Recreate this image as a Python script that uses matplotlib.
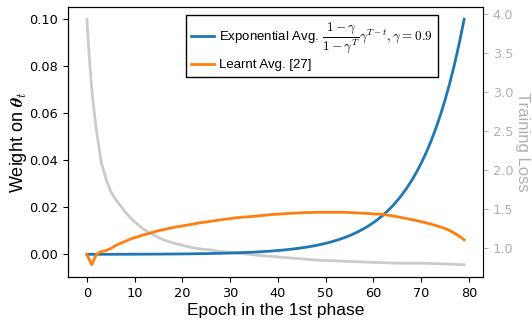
import matplotlib
matplotlib.use("Agg")
import matplotlib.pyplot as plt

plt.rcParams['mathtext.fontset'] = 'cm'

epochs = list(range(80))

exp_avg = [0.000024, 0.000027, 0.000030, 0.000033, 0.000037, 0.000041, 0.000046, 0.000051,
           0.000056, 0.000063, 0.000070, 0.000077, 0.000086, 0.000096, 0.000106, 0.000118,
           0.000131, 0.000146, 0.000162, 0.000180, 0.000200, 0.000222, 0.000246, 0.000274,
           0.000304, 0.000338, 0.000375, 0.000417, 0.000463, 0.000515, 0.000573, 0.000636,
           0.000707, 0.000786, 0.000873, 0.000970, 0.001078, 0.001197, 0.001330, 0.001478,
           0.001642, 0.001825, 0.002028, 0.002253, 0.002503, 0.002781, 0.003090, 0.003434,
           0.003815, 0.004239, 0.004710, 0.005233, 0.005815, 0.006461, 0.007179, 0.007977,
           0.008863, 0.009848, 0.010942, 0.012158, 0.013509, 0.015009, 0.016677, 0.018530,
           0.020589, 0.022877, 0.025419, 0.028243, 0.031381, 0.034868, 0.038742, 0.043047,
           0.047830, 0.053144, 0.059049, 0.065610, 0.072900, 0.081000, 0.090000, 0.100000]

learnt_avg = [0.0, -0.0044, 0.0, 0.0012, 0.0016, 0.0025, 0.0037, 0.0047, 0.0055, 0.0064,
              0.0071, 0.0077, 0.0084, 0.0089, 0.0095, 0.0101, 0.0105, 0.0110, 0.0114, 0.0118,
              0.0121, 0.0125, 0.0128, 0.0132, 0.0135, 0.0138, 0.0141, 0.0144, 0.0147, 0.0150,
              0.0152, 0.0155, 0.0157, 0.0159, 0.0160, 0.0162, 0.0164, 0.0166, 0.0168, 0.0170,
              0.0171, 0.0172, 0.0174, 0.0175, 0.0176, 0.0177, 0.0178, 0.0178, 0.0179, 0.0179,
              0.0179, 0.0179, 0.0179, 0.0179, 0.0179, 0.0178, 0.0177, 0.0176, 0.0175, 0.0174,
              0.0172, 0.0171, 0.0170, 0.0167, 0.0164, 0.0160, 0.0156, 0.0152, 0.0148, 0.0144,
              0.0139, 0.0134, 0.0129, 0.0123, 0.0117, 0.0110, 0.0101, 0.0090, 0.0077, 0.0062]

loss_epochs = [0, 0.5, 1, 1.5, 2, 2.5, 3, 4, 5, 6, 7, 8, 9, 10, 12, 14, 16, 18, 20, 22, 24,
               26, 28, 30, 33, 36, 40, 44, 48, 52, 56, 60, 65, 70, 75, 79]
loss = [3.93, 3.45, 3.05, 2.76, 2.50, 2.30, 2.10, 1.88, 1.72, 1.62, 1.54, 1.46, 1.39, 1.33,
        1.23, 1.16, 1.10, 1.06, 1.03, 1.00, 0.98, 0.97, 0.95, 0.94, 0.92, 0.90, 0.88, 0.86,
        0.84, 0.83, 0.82, 0.81, 0.80, 0.80, 0.79, 0.78]

x_ticks = [0, 10, 20, 30, 40, 50, 60, 70, 80]

fig = plt.figure(figsize=(5.32, 3.21), dpi=100)
ax = fig.add_axes([68/532, 44/321, 415/532, 270/321])
ax2 = ax.twinx()
ax.set_zorder(ax2.get_zorder() + 1)
ax.patch.set_visible(False)

gray = '#cbcbcb'
ax2.plot(loss_epochs, loss, color=gray, lw=2)
ax.plot(epochs, exp_avg, color='#1f77b4', lw=2,
        label=r'Exponential Avg. $\dfrac{1-\gamma}{1-\gamma^T}\gamma^{T-t}, \gamma=0.9$')
ax.plot(epochs, learnt_avg, color='#ff7f0e', lw=2, label='Learnt Avg. [27]')

ax.set_xticks(x_ticks)
ax.set_xlabel('Epoch in the 1st phase', fontsize=12.5, family='Liberation Sans')
ax.xaxis.set_label_coords(0.5, -0.098)
ax.set_ylabel(r'Weight on $\boldsymbol{\theta}_t$', fontsize=13, family='Liberation Sans',
              va='center')
ax.yaxis.set_label_coords(-0.12, 0.5)
ax.set_yticks([0.0, 0.02, 0.04, 0.06, 0.08, 0.10])
ax.tick_params(labelsize=9.3)

tick_gray = '#b0b0b0'
ax2.set_ylabel('Training Loss', fontsize=12, family='Liberation Sans', color=tick_gray,
               rotation=270, va='center', ha='center')
ax2.yaxis.set_label_coords(1.096, 0.5)
ax2.tick_params(axis='y', colors=tick_gray, labelsize=9.3)
ax2.spines['right'].set_color(tick_gray)
ax2.set_yticks([1.0, 1.5, 2.0, 2.5, 3.0, 3.5, 4.0])

leg = ax.legend(loc='upper right', bbox_to_anchor=(0.892, 0.97), borderaxespad=0,
                fancybox=False, edgecolor='black', framealpha=1,
                handlelength=1.7, handletextpad=0.4, labelspacing=0.3,
                prop={'family': 'Liberation Sans', 'size': 9.5})
leg.get_frame().set_linewidth(1.0)

fig.savefig('out.png', dpi=100)
